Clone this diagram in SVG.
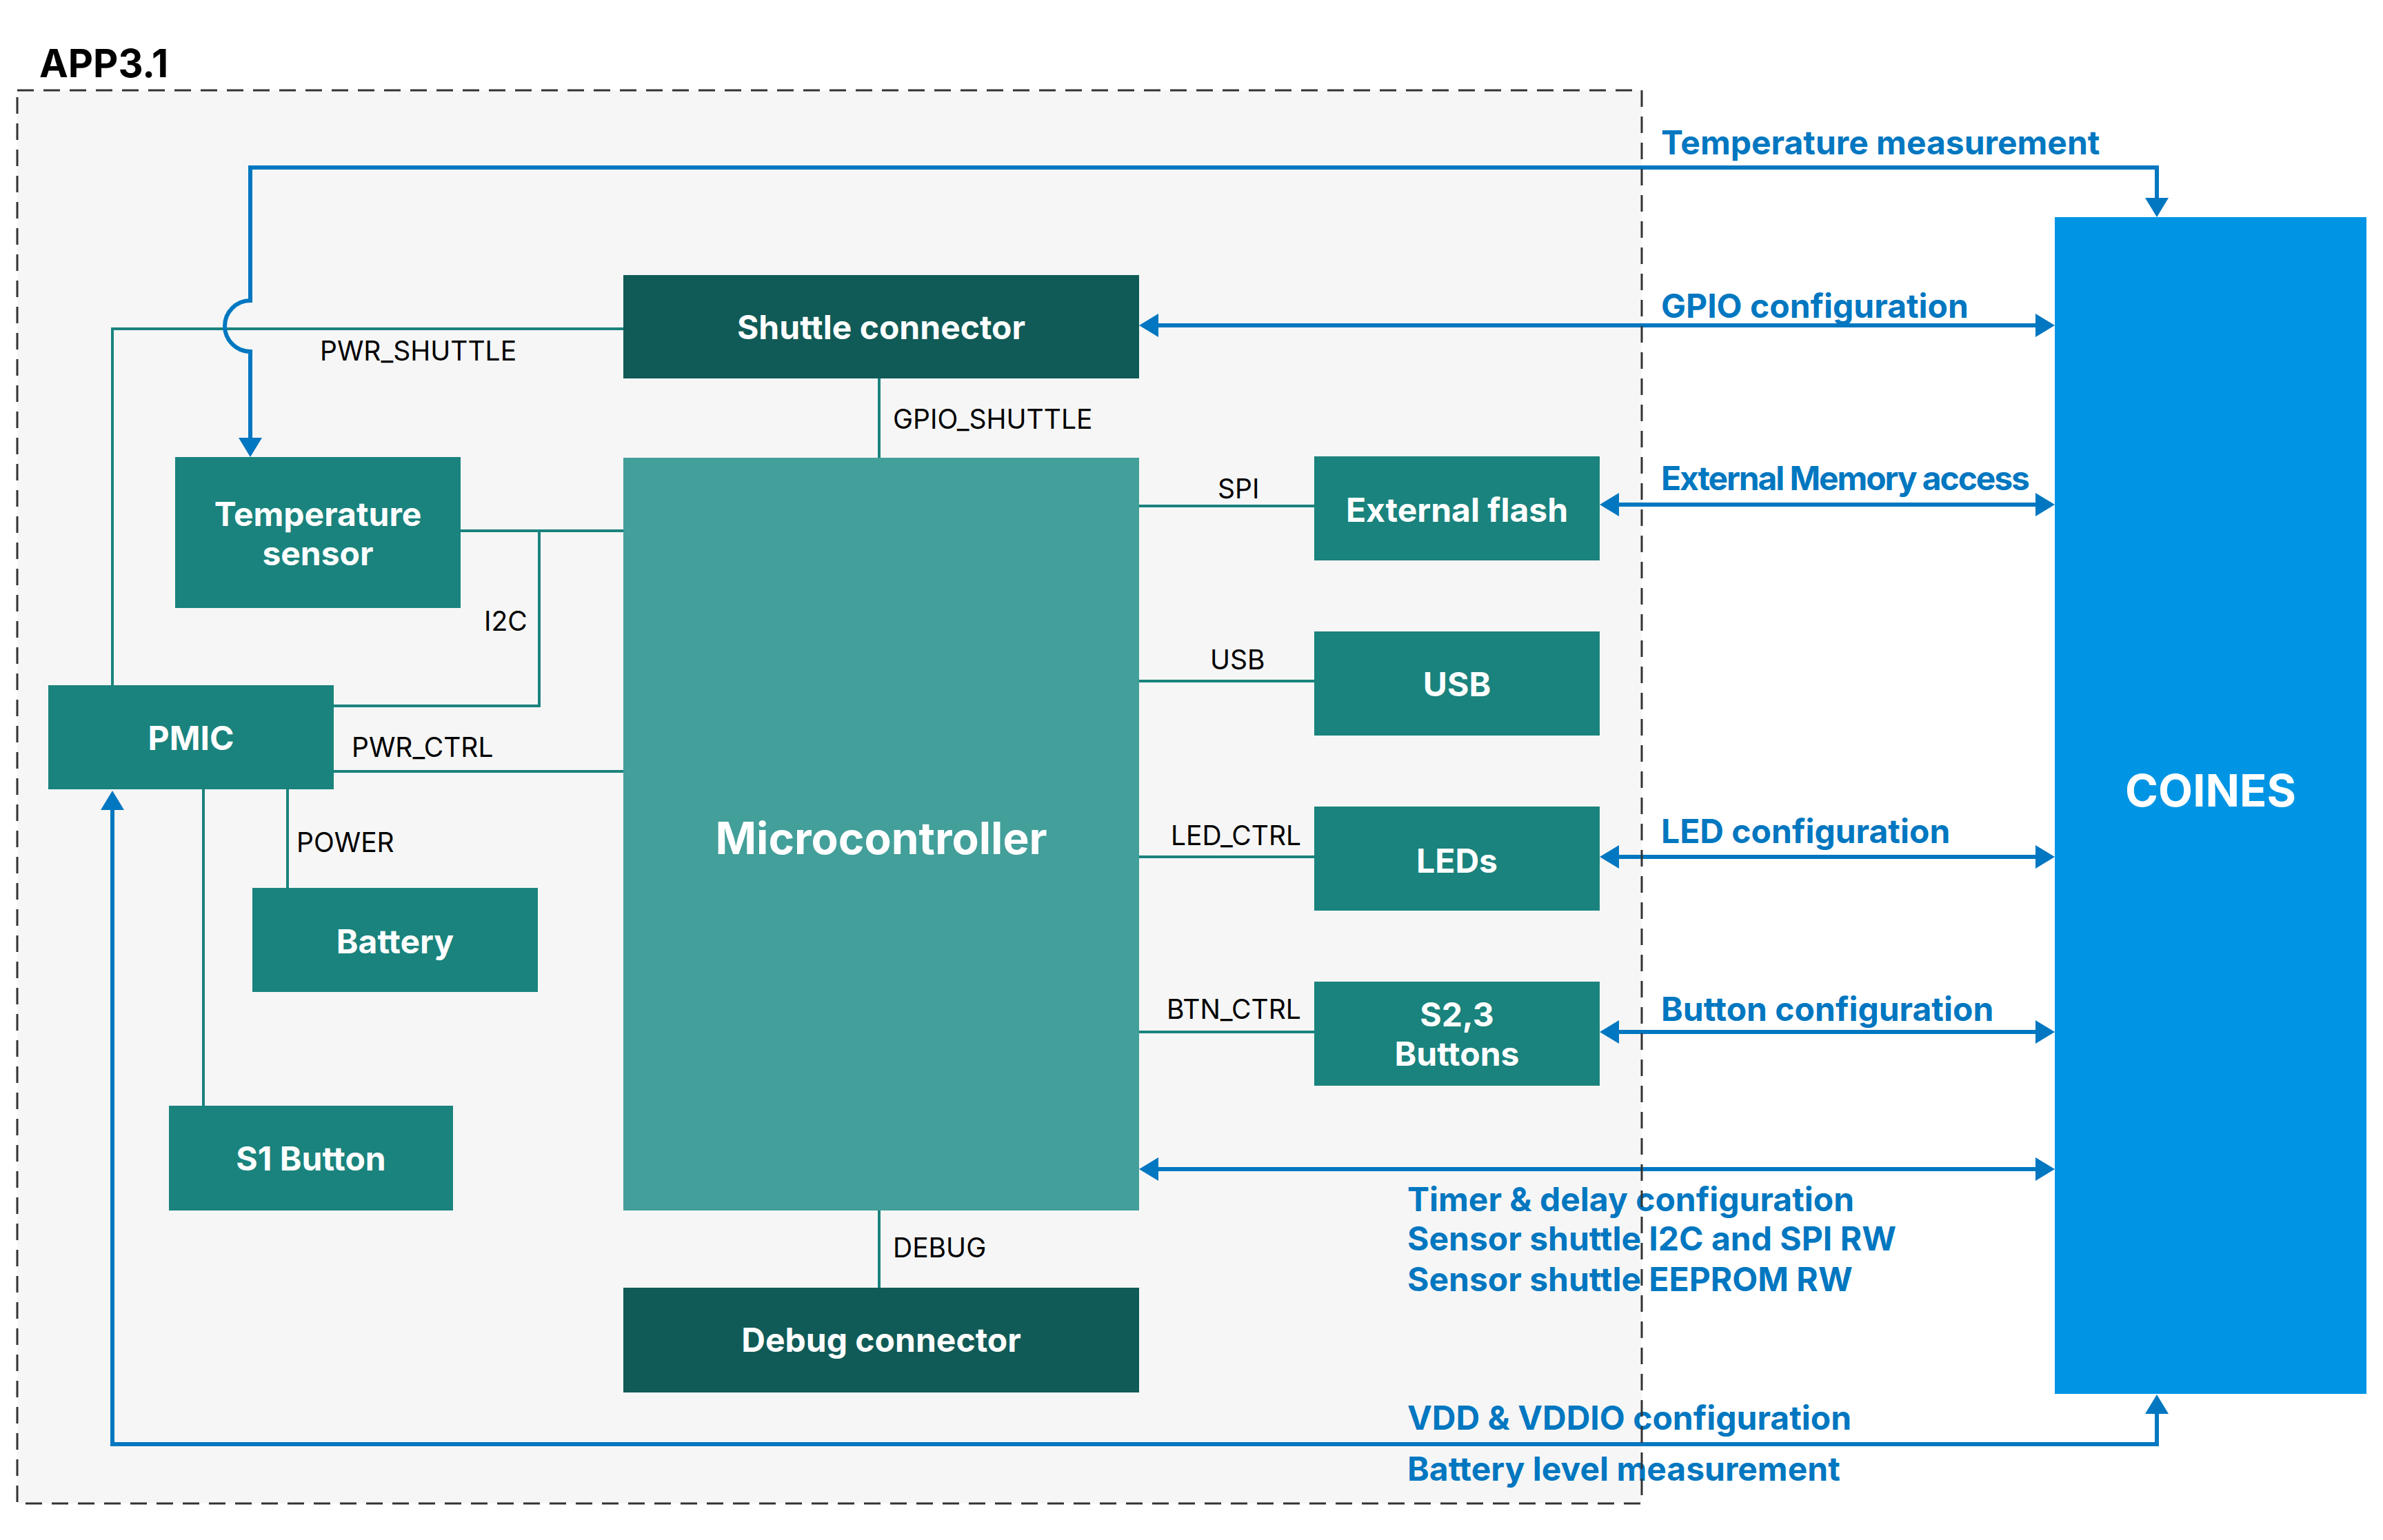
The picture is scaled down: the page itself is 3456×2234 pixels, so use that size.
<svg xmlns="http://www.w3.org/2000/svg" width="3456" height="2234" viewBox="0 0 3456 2234">
<style>
.box{stroke:none}
.dark{fill:#105B57}
.teal{fill:#1A837D}
.mcu{fill:#439F9A}
.coines{fill:#0095E4}
.nt{font-family:Inter,"Liberation Sans",sans-serif;font-weight:700;fill:#FFFFFF;text-anchor:middle;font-size:48px}
.sl{font-family:Inter,"Liberation Sans",sans-serif;font-weight:400;fill:#000000;font-size:39px}
.bl{font-family:Inter,"Liberation Sans",sans-serif;font-weight:700;fill:#0077C0;font-size:48px}
.tc{fill:none;stroke:#1A837D;stroke-width:4}
.bc{fill:none;stroke:#0077C0;stroke-width:6}
.ar{marker-start:url(#ah);marker-end:url(#ah)}
</style>
<defs>
<marker id="ah" markerUnits="userSpaceOnUse" markerWidth="30" markerHeight="36" refX="0" refY="17" orient="auto-start-reverse" viewBox="0 0 30 36">
<path d="M0,0 L28,17 L0,34 z" fill="#0077C0"/>
</marker>
</defs>
<rect x="0" y="0" width="3456" height="2234" fill="#FFFFFF"/>
<rect x="25" y="131" width="2356" height="2050" fill="#F6F6F6"/>
<text x="57" y="112" font-family="Inter,'Liberation Sans',sans-serif" font-weight="700" font-size="56" fill="#000000">APP3.1</text>

<g id="connectors">
<path class="tc" d="M904,477 L163,477 L163,994"/>
<path class="tc" d="M1275,549 L1275,664"/>
<path class="tc" d="M668,770 L904,770"/>
<path class="tc" d="M782,770 L782,1024 L484,1024"/>
<path class="tc" d="M484,1119 L904,1119"/>
<path class="tc" d="M417,1145 L417,1288"/>
<path class="tc" d="M295,1145 L295,1604"/>
<path class="tc" d="M1652,734 L1906,734"/>
<path class="tc" d="M1652,988 L1906,988"/>
<path class="tc" d="M1652,1243 L1906,1243"/>
<path class="tc" d="M1652,1497 L1906,1497"/>
<path class="tc" d="M1275,1756 L1275,1868"/>
<path class="bc ar" d="M363,635 L363,510 A37,37 0 0,1 363,436 L363,243 L3128,243 L3128,287"/>
<path class="bc ar" d="M163,1175 L163,2095 L3128,2095 L3128,2051"/>
<path class="bc ar" d="M1680,472 L2952,472"/>
<path class="bc ar" d="M2348,732 L2952,732"/>
<path class="bc ar" d="M2348,1243 L2952,1243"/>
<path class="bc ar" d="M2348,1497 L2952,1497"/>
<path class="bc ar" d="M1680,1696 L2952,1696"/>
</g>

<g id="shuttle"><rect class="box dark" x="904" y="399" width="748" height="150"/><text class="nt" x="1278" y="492">Shuttle connector</text></g>
<g id="mcu"><rect class="box mcu" x="904" y="664" width="748" height="1092"/><text class="nt" x="1278" y="1239" style="font-size:64px">Microcontroller</text></g>
<g id="tempsensor"><rect class="box teal" x="254" y="663" width="414" height="219"/><text class="nt" x="461" y="763">Temperature</text><text class="nt" x="461" y="820">sensor</text></g>
<g id="pmic"><rect class="box teal" x="70" y="994" width="414" height="151"/><text class="nt" x="277" y="1088">PMIC</text></g>
<g id="battery"><rect class="box teal" x="366" y="1288" width="414" height="151"/><text class="nt" x="573" y="1383">Battery</text></g>
<g id="s1button"><rect class="box teal" x="245" y="1604" width="412" height="152"/><text class="nt" x="451" y="1698">S1 Button</text></g>
<g id="debug"><rect class="box dark" x="904" y="1868" width="748" height="152"/><text class="nt" x="1278" y="1961">Debug connector</text></g>
<g id="extflash"><rect class="box teal" x="1906" y="662" width="414" height="151"/><text class="nt" x="2113" y="757">External flash</text></g>
<g id="usb"><rect class="box teal" x="1906" y="916" width="414" height="151"/><text class="nt" x="2113" y="1010">USB</text></g>
<g id="leds"><rect class="box teal" x="1906" y="1170" width="414" height="151"/><text class="nt" x="2113" y="1266">LEDs</text></g>
<g id="buttons"><rect class="box teal" x="1906" y="1424" width="414" height="151"/><text class="nt" x="2113" y="1489">S2,3</text><text class="nt" x="2113" y="1546">Buttons</text></g>
<g id="coines"><rect class="box coines" x="2980" y="315" width="452" height="1707"/><text class="nt" x="3206" y="1170" style="font-size:65px">COINES</text></g>

<g id="labels">
<text class="sl" x="464" y="523">PWR_SHUTTLE</text>
<text class="sl" x="1295" y="622">GPIO_SHUTTLE</text>
<text class="sl" x="702" y="915">I2C</text>
<text class="sl" x="510" y="1098">PWR_CTRL</text>
<text class="sl" x="430" y="1236">POWER</text>
<text class="sl" x="1295" y="1824">DEBUG</text>
<text class="sl" x="1766" y="723">SPI</text>
<text class="sl" x="1755" y="971">USB</text>
<text class="sl" x="1698" y="1226">LED_CTRL</text>
<text class="sl" x="1692" y="1478">BTN_CTRL</text>
<text class="bl" x="2409" y="224">Temperature measurement</text>
<text class="bl" x="2409" y="461">GPIO configuration</text>
<text class="bl" x="2409" y="711" textLength="535" lengthAdjust="spacing">External Memory access</text>
<text class="bl" x="2409" y="1223">LED configuration</text>
<text class="bl" x="2409" y="1481">Button configuration</text>
<text class="bl" x="2041" y="1757">Timer &amp; delay configuration</text>
<text class="bl" x="2041" y="1814">Sensor shuttle I2C and SPI RW</text>
<text class="bl" x="2041" y="1873">Sensor shuttle EEPROM RW</text>
<text class="bl" x="2041" y="2074">VDD &amp; VDDIO configuration</text>
<text class="bl" x="2041" y="2148">Battery level measurement</text>
</g>
<rect x="25" y="131" width="2356" height="2050" fill="none" stroke="#333333" stroke-width="3" stroke-dasharray="24 14"/>
</svg>
